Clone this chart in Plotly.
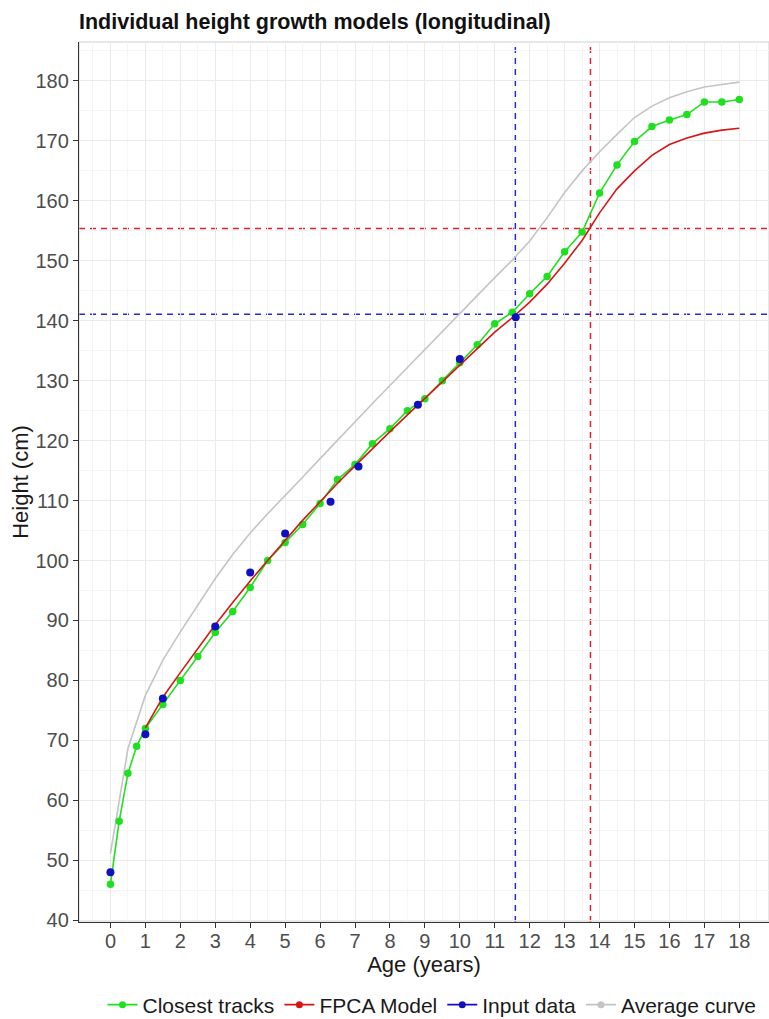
import plotly.graph_objects as go

# ---------------- data ----------------
closest_age = [0, 0.25, 0.5, 0.75, 1, 1.5, 2, 2.5, 3, 3.5, 4, 4.5, 5, 5.5, 6, 6.5, 7, 7.5, 8, 8.5,
               9, 9.5, 10, 10.5, 11, 11.5, 12, 12.5, 13, 13.5, 14, 14.5, 15, 15.5, 16, 16.5, 17, 17.5, 18]
closest_height = [46.0, 56.5, 64.5, 69.0, 72.0, 76.0, 80.0, 84.0, 88.0, 91.5, 95.5, 100.0, 103.0, 106.0,
                  109.5, 113.5, 116.0, 119.5, 122.0, 125.0, 127.0, 130.0, 133.0, 136.0, 139.5, 141.4,
                  144.5, 147.4, 151.5, 154.8, 161.3, 166.0, 169.9, 172.4, 173.5, 174.4, 176.5, 176.5, 176.9]

fpca_age = [1, 1.5, 2, 2.5, 3, 3.5, 4, 4.5, 5, 5.5, 6, 6.5, 7, 7.5, 8, 8.5, 9, 9.5, 10, 10.5,
            11, 11.5, 12, 12.5, 13, 13.5, 14, 14.5, 15, 15.5, 16, 16.5, 17, 17.5, 18]
fpca_height = [72.1, 77.2, 81.3, 85.4, 89.3, 93.0, 96.6, 100.0, 103.4, 106.7, 109.8, 112.9, 115.8, 118.7,
               121.5, 124.3, 127.0, 129.8, 132.6, 135.4, 138.1, 140.5, 143.1, 146.1, 149.6, 153.4,
               158.0, 162.0, 165.0, 167.6, 169.4, 170.5, 171.3, 171.8, 172.1]

input_age = [0, 1, 1.5, 3, 4, 5, 6.3, 7.1, 8.8, 10, 11.6]
input_height = [48.0, 71.0, 77.0, 89.0, 98.0, 104.5, 109.8, 115.7, 126.0, 133.6, 140.6]

avg_age = [0, 0.5, 1, 1.5, 2, 2.5, 3, 3.5, 4, 4.5, 5, 5.5, 6, 6.5, 7, 7.5, 8, 8.5, 9, 9.5, 10,
           10.5, 11, 11.5, 12, 12.5, 13, 13.5, 14, 14.5, 15, 15.5, 16, 16.5, 17, 17.5, 18]
avg_height = [51.1, 68.6, 77.5, 83.4, 88.1, 92.6, 97.0, 101.0, 104.6, 107.8, 110.8, 113.9, 117.0, 120.1,
              123.2, 126.2, 129.2, 132.2, 135.2, 138.2, 141.3, 144.2, 147.2, 150.1, 153.3, 157.2,
              161.4, 165.0, 168.2, 171.1, 173.9, 175.8, 177.2, 178.2, 179.0, 179.4, 179.8]

# reference cross-hairs (age, height)
input_ref_age, input_ref_height = 11.59, 141.1
fpca_ref_age, fpca_ref_height = 13.74, 155.4

x_ticks = list(range(0, 19))
y_ticks = list(range(40, 181, 10))

# ---------------- styles ----------------
GREEN = "#1FE01F"
RED = "#D81515"
BLUE = "#1010C0"
GRAY = "#C4C4C4"
FONT = "Liberation Sans, Arial, sans-serif"

fig = go.Figure()

fig.add_trace(go.Scatter(x=avg_age, y=avg_height, mode="lines", line=dict(color=GRAY, width=1.6),
                         showlegend=False, hoverinfo="skip"))
fig.add_trace(go.Scatter(x=closest_age, y=closest_height, mode="lines+markers",
                         line=dict(color=GREEN, width=1.6), marker=dict(color=GREEN, size=7.5),
                         showlegend=False))
fig.add_trace(go.Scatter(x=fpca_age, y=fpca_height, mode="lines", line=dict(color=RED, width=1.6),
                         showlegend=False))
fig.add_trace(go.Scatter(x=input_age, y=input_height, mode="markers",
                         marker=dict(color=BLUE, size=8), showlegend=False))

# legend entries (point + line keys, as in the original)
for name, col in [("Closest tracks", GREEN), ("FPCA Model", RED), ("Input data", BLUE), ("Average curve", GRAY)]:
    fig.add_trace(go.Scatter(x=[None], y=[None], mode="lines+markers", name=name,
                             line=dict(color=col, width=1.6), marker=dict(color=col, size=7)))

dash = "6px,5px"
fig.add_shape(type="line", xref="x", yref="paper", x0=input_ref_age, x1=input_ref_age, y0=0, y1=1,
              line=dict(color="#2A2ACC", width=1.5, dash=dash), layer="between")
fig.add_shape(type="line", xref="x", yref="paper", x0=fpca_ref_age, x1=fpca_ref_age, y0=0, y1=1,
              line=dict(color="#E0202E", width=1.5, dash=dash), layer="between")
fig.add_shape(type="line", xref="paper", yref="y", x0=0, x1=1, y0=input_ref_height, y1=input_ref_height,
              line=dict(color="#2A2ACC", width=1.5, dash=dash), layer="between")
fig.add_shape(type="line", xref="paper", yref="y", x0=0, x1=1, y0=fpca_ref_height, y1=fpca_ref_height,
              line=dict(color="#E0202E", width=1.5, dash=dash), layer="between")
# light panel border (top / right)
fig.add_shape(type="rect", xref="paper", yref="paper", x0=0, x1=1, y0=0, y1=1,
              line=dict(color="#CFCFCF", width=1), layer="between")

fig.update_layout(
    width=769, height=1019,
    margin=dict(l=79, r=0, t=42, b=97, autoexpand=False),
    paper_bgcolor="white", plot_bgcolor="white",
    font=dict(family=FONT, color="#1A1A1A"),
    title=dict(text="<b>Individual height growth models (longitudinal)</b>",
               font=dict(family=FONT, size=21.5, color="#111111"),
               x=79 / 769, xanchor="left", xref="container",
               y=1 - 14 / 1019, yanchor="top", yref="container",
               pad=dict(l=0, r=0, t=0, b=0)),
    legend=dict(orientation="h", x=432 / 769, xanchor="center", xref="container",
                y=1 - 1005 / 1019, yanchor="middle", yref="container",
                font=dict(family=FONT, size=21, color="#1A1A1A"),
                itemwidth=30, tracegroupgap=0),
    showlegend=True,
)

fig.update_xaxes(
    range=[-0.9, 18.85], tickmode="array", tickvals=x_ticks, ticktext=[str(v) for v in x_ticks],
    showgrid=True, gridcolor="#EBEBEB", gridwidth=1.1,
    minor=dict(dtick=0.5, tick0=0, showgrid=True, gridcolor="#F5F5F5", gridwidth=0.8),
    showline=True, linecolor="#333333", linewidth=1.3,
    ticks="outside", ticklen=5, tickcolor="#333333", tickwidth=1.2,
    tickfont=dict(family=FONT, size=20, color="#4D4D4D"), ticklabelstandoff=-4,
    title=dict(text="Age (years)", font=dict(family=FONT, size=22, color="#1A1A1A"), standoff=1),
    zeroline=False, automargin=False,
)
fig.update_yaxes(
    range=[39.7, 186.5], tickmode="array", tickvals=y_ticks, ticktext=[str(v) for v in y_ticks],
    showgrid=True, gridcolor="#EBEBEB", gridwidth=1.1,
    minor=dict(dtick=5, tick0=40, showgrid=True, gridcolor="#F5F5F5", gridwidth=0.8),
    showline=True, linecolor="#333333", linewidth=1.3,
    ticks="outside", ticklen=5, tickcolor="#333333", tickwidth=1.2,
    tickfont=dict(family=FONT, size=20, color="#4D4D4D"),
    title=dict(text="Height (cm)", font=dict(family=FONT, size=22, color="#1A1A1A"), standoff=0),
    zeroline=False, automargin=False,
)

fig.write_html("out.html", config={"displayModeBar": False},
               post_script="document.body.style.margin='0';")
